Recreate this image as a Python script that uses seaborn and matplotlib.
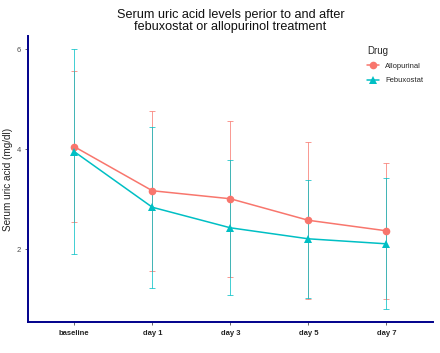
import numpy as np
import pandas as pd
import matplotlib
matplotlib.use("Agg")
import matplotlib.pyplot as plt
import seaborn as sns

# 시점 / 약물별 평균과 표준편차
days = ["baseline", "day 1", "day 3", "day 5", "day 7"]
allo_mean = [4.05, 3.17, 3.01, 2.58, 2.37]
allo_sd = [1.51, 1.60, 1.56, 1.57, 1.36]
febu_mean = [3.95, 2.84, 2.43, 2.21, 2.11]
febu_sd = [2.05, 1.61, 1.35, 1.18, 1.31]

sns.set_style("white")
plt.rcParams['font.family'] = ['Liberation Sans', 'DejaVu Sans']

df = pd.DataFrame({
    "day": list(range(len(days))) * 2,
    "uric": allo_mean + febu_mean,
    "sd": allo_sd + febu_sd,
    "Drug": ["Allopurinal"] * len(days) + ["Febuxostat"] * len(days),
})
palette = {"Allopurinal": "#F8766D", "Febuxostat": "#00BFC4"}
markers = {"Allopurinal": "o", "Febuxostat": "^"}

fig = plt.figure(figsize=(4.4, 3.53), dpi=100)
ax = fig.add_axes([0.0625, 0.088, 0.922, 0.81])

for drug, g in df.groupby("Drug"):
    ax.errorbar(g["day"], g["uric"], yerr=g["sd"], fmt="none",
                ecolor=palette[drug], elinewidth=0.7, capsize=2.3,
                capthick=0.7, alpha=0.75, zorder=1)

sns.lineplot(data=df, x="day", y="uric", hue="Drug", style="Drug",
             markers=markers, dashes=False, palette=palette,
             linewidth=1.1, markersize=5.5, markeredgewidth=0,
             ax=ax, zorder=3)

ax.set_xlim(-0.6, 4.6)
ax.set_ylim(0.55, 6.26)
ax.set_xticks(range(len(days)))
ax.set_xticklabels(days, fontsize=5.5, fontweight="bold", color="#222222")
ax.set_yticks([2, 4, 6])
ax.tick_params(axis="y", labelsize=5.5, labelcolor="#4d4d4d", length=2.5,
               width=0.6, color="#4d4d4d", left=True, pad=2)
ax.tick_params(axis="x", length=2.5, width=0.6, color="#4d4d4d",
               bottom=True, pad=3)
ax.set_xlabel("")
ax.set_ylabel("Serum uric acid (mg/dl)", fontsize=7.2, color="#222222", labelpad=3)

for s in ["top", "right"]:
    ax.spines[s].set_visible(False)
for s in ["left", "bottom"]:
    ax.spines[s].set_color("#00008B")
    ax.spines[s].set_linewidth(1.4)

ax.set_title("Serum uric acid levels perior to and after\nfebuxostat or allopurinol treatment",
             fontsize=9.1, color="#111111", pad=4, linespacing=1.05)

leg = ax.legend(title="Drug", loc="upper left", bbox_to_anchor=(0.82, 0.99),
                frameon=False, fontsize=5.5, title_fontsize=7,
                handlelength=1.6, labelspacing=0.9)
leg._legend_box.align = "left"

fig.savefig("out.png", dpi=100)
